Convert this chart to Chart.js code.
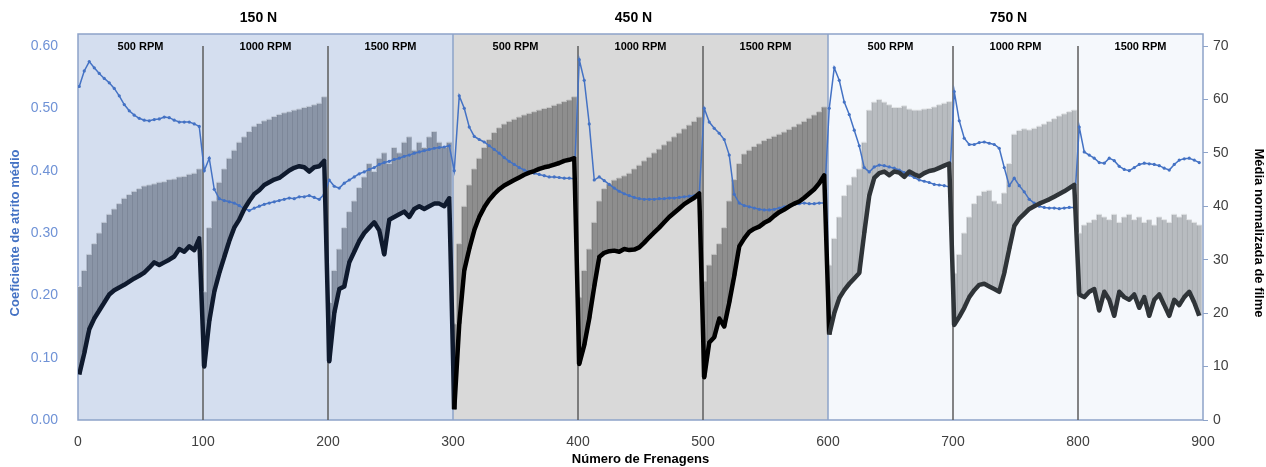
<!DOCTYPE html>
<html>
<head>
<meta charset="utf-8">
<script src="https://cdn.jsdelivr.net/npm/chart.js@4.4.1/dist/chart.umd.min.js"></script>
<style>
  html, body { margin: 0; padding: 0; background: #fff; }
</style>
</head>
<body>
<canvas id="grafico" width="1266" height="467"></canvas>
<script>
// Ensaios: 3 cargas x 3 rotações, 100 frenagens cada; um ponto a cada 4 frenagens
const cargas = ["150 N", "450 N", "750 N"];
const rotacoes = ["500 RPM", "1000 RPM", "1500 RPM"];

const frenagens = [];
for (let s = 0; s < 9; s++) {
  for (let i = 0; i < 25; i++) frenagens.push(s * 100 + 1 + i * 4);
}

// Coeficiente de atrito médio (eixo esquerdo)
const atrito = [
  0.535,0.56,0.575,0.565,0.556,0.548,0.541,0.532,0.52,0.506,0.496,0.489,0.484,0.481,0.48,0.482,0.483,0.486,0.485,0.481,0.478,0.478,0.478,0.475,0.471,
  0.40,0.42,0.37,0.355,0.352,0.35,0.348,0.344,0.339,0.336,0.34,0.343,0.346,0.348,0.35,0.352,0.354,0.356,0.355,0.358,0.358,0.36,0.357,0.354,0.362,
  0.385,0.375,0.372,0.38,0.385,0.39,0.395,0.398,0.402,0.405,0.41,0.413,0.415,0.418,0.42,0.423,0.425,0.428,0.43,0.432,0.434,0.436,0.437,0.438,0.44,
  0.40,0.52,0.50,0.47,0.455,0.45,0.446,0.44,0.434,0.428,0.421,0.415,0.41,0.405,0.401,0.398,0.396,0.394,0.392,0.39,0.39,0.389,0.388,0.388,0.387,
  0.578,0.545,0.475,0.385,0.39,0.384,0.378,0.372,0.367,0.363,0.36,0.357,0.355,0.354,0.354,0.354,0.355,0.355,0.356,0.356,0.357,0.358,0.359,0.36,0.362,
  0.50,0.478,0.468,0.46,0.45,0.425,0.362,0.348,0.344,0.342,0.34,0.338,0.337,0.337,0.338,0.34,0.342,0.344,0.346,0.347,0.348,0.347,0.347,0.348,0.348,
  0.50,0.565,0.545,0.51,0.49,0.465,0.44,0.405,0.398,0.406,0.409,0.408,0.406,0.404,0.401,0.397,0.393,0.389,0.385,0.383,0.381,0.378,0.377,0.376,0.374,
  0.527,0.48,0.452,0.442,0.442,0.445,0.446,0.444,0.442,0.436,0.405,0.376,0.388,0.376,0.366,0.354,0.348,0.343,0.341,0.34,0.34,0.339,0.34,0.341,0.341,
  0.47,0.43,0.425,0.42,0.413,0.412,0.42,0.416,0.407,0.402,0.40,0.405,0.41,0.412,0.411,0.41,0.408,0.404,0.401,0.41,0.417,0.419,0.42,0.417,0.413
];

// Média normalizada de filme (eixo direito)
const filme = [
  8.5,12.5,17,19,20.5,22,23.5,24.3,24.8,25.3,25.9,26.5,27,27.6,28.5,29.5,29,29.5,30,30.6,32,31.5,32.5,31.8,34,
  10,18.5,24,27.5,30.5,33.5,36,37.5,39.5,41,42.3,43,44,44.5,45,45.3,46,46.7,47.2,47.5,47.3,46.5,47.3,47.5,48.5,
  11,20,24.5,25,29.5,31.5,33.5,35,36,37,35.5,31,37.5,38,38.5,39,38,39.5,40,39.5,40,40.5,40.5,40,41.5,
  2,18,28,32,35.5,38,39.8,41.2,42.3,43.2,43.9,44.4,44.9,45.4,45.9,46.3,46.6,47,47.3,47.5,47.8,48.1,48.5,48.7,49,
  10.5,14,19,25,30.5,31.3,31.6,31.7,31.5,32,31.8,31.9,32.3,33.2,34.2,35.1,36,37,38,38.8,39.6,40.4,41,41.6,42.4,
  8,14.5,15.5,19,17.5,22,27,32.5,34,35.2,35.8,36.2,36.9,37.4,38.2,38.9,39.4,40,40.5,40.9,41.6,42.4,43.2,44.3,45.8,
  16,20,22.8,24.3,25.5,26.5,27.5,35,42,45.3,46.2,46.5,45.8,46.5,46.3,45.5,46.5,46,45.6,46.2,46.6,46.8,47.2,47.6,48,
  17.8,19.3,21,23,24.3,25.3,25.5,25,24.5,24,27.5,32,36.3,37.7,38.6,39.5,40,40.5,40.9,41.3,41.8,42.3,42.8,43.4,44,
  23.5,23,24,24.5,20.5,24,22.5,19.5,24,23,22.5,23.5,21,23,19.5,22.5,23.5,21.5,19.5,22.5,21.5,23,24,22,19.5
];

// Média + desvio padrão (topo das barras de erro)
const filmeTopo = [
  25,28,31,33,35,37,38.5,39.5,40.5,41.5,42.2,42.8,43.3,43.8,44,44.2,44.5,44.6,45,45.1,45.5,45.6,46,46.2,47,
  24,36,41,44.5,47,49,50.5,52,53,54,55,55.5,56,56.3,56.8,57.2,57.5,57.7,58,58.2,58.5,58.7,59,59.3,60.5,
  22,28,32,36,39,41,43.5,45.5,48,46.5,49,50,48,51,50,52,53,50.5,52,51,53,54,52,51,52,
  18,33,40,44,47,49,51,52.5,53.8,54.7,55.4,55.9,56.3,56.7,57.1,57.4,57.7,58,58.3,58.5,58.9,59.2,59.6,59.9,60.5,
  23,28,32,37,41,43.3,44.2,44.9,45.3,45.7,46.2,47,47.7,48.5,49.2,50,50.7,51.5,52.2,53,53.7,54.5,55.2,55.9,56.7,
  26,29,31,33,36,41,45,48,49.8,50.5,51.2,51.7,52.3,52.7,53.1,53.5,53.9,54.4,54.9,55.4,55.9,56.5,57.1,57.7,58.6,
  29,34,38,42,44,45.5,47,52,58,59.5,60,59.5,59,58.5,58.5,58.8,58.2,58,58,58.2,58.3,58.6,59,59.3,59.6,
  27.5,31,35,38,40.5,42,42.8,43,41,40.5,42.5,48,53.5,54.2,54.5,54.3,54.6,55,55.4,55.9,56.4,56.9,57.3,57.7,58,
  35,36.5,37,37.5,38.5,38,37.5,38.5,37,38,38.5,37.5,38,37,37.5,36.5,38,37.5,37,38.5,38,38.5,37.5,37,36.5
];

// cores por carga
const fundos = ["#d4deef", "#d9d9d9", "#f5f8fc"];
const coresBarra = ["#8a95a7", "#8e8e8e", "#b8bcc0"];
const coresBorda = ["#6b7587", "#6c6c6c", "#979ba0"];
const coresTopo = ["#c3cbd8", "#c4c4c4", "#e2e4e6"];
const coresFilme = ["#0f1a2e", "#000000", "#2f3438"];
const AZUL = "#4472c4";

const carga = x => Math.min(2, Math.floor((x - 0.5) / 300));

const faixasPlugin = {
  id: "faixas",
  beforeDatasetsDraw(chart) {
    const { ctx, chartArea: a, scales: { x } } = chart;
    const topo = a.top - 12;
    ctx.save();
    cargas.forEach((c, i) => {
      const x0 = x.getPixelForValue(i * 300);
      const x1 = x.getPixelForValue((i + 1) * 300);
      ctx.fillStyle = fundos[i];
      ctx.fillRect(x0, topo, x1 - x0, a.bottom - topo);
    });
    ctx.strokeStyle = "#8da3c9";
    ctx.lineWidth = 1.5;
    ctx.strokeRect(a.left, topo, a.right - a.left, a.bottom - topo);
    [300, 600].forEach(v => {
      const px = x.getPixelForValue(v);
      ctx.beginPath();
      ctx.moveTo(px, topo);
      ctx.lineTo(px, a.bottom);
      ctx.stroke();
    });
    ctx.strokeStyle = "#5c5c5c";
    ctx.lineWidth = 1.5;
    for (let v = 100; v < 900; v += 100) {
      if (v % 300 === 0) continue;
      const px = x.getPixelForValue(v);
      ctx.beginPath();
      ctx.moveTo(px, a.top);
      ctx.lineTo(px, a.bottom);
      ctx.stroke();
    }
    ctx.restore();
  },
  afterDraw(chart) {
    const { ctx, chartArea: a, scales: { x } } = chart;
    ctx.save();
    ctx.fillStyle = "#000";
    ctx.textAlign = "center";
    ctx.textBaseline = "middle";
    ctx.font = "bold 14px 'Liberation Sans', Arial, sans-serif";
    cargas.forEach((c, i) => {
      ctx.fillText(c, x.getPixelForValue(i * 300 + 150) - 7, 18);
    });
    ctx.font = "bold 11px 'Liberation Sans', Arial, sans-serif";
    for (let s = 0; s < 9; s++) {
      ctx.fillText(rotacoes[s % 3], x.getPixelForValue(s * 100 + 50), a.top + 1);
    }
    ctx.restore();
  }
};

const fonte = "'Liberation Sans', Arial, sans-serif";

new Chart(document.getElementById("grafico"), {
  type: "bar",
  data: {
    datasets: [
      {
        type: "line",
        label: "Média normalizada de filme",
        data: frenagens.map((x, i) => ({ x, y: filme[i] })),
        yAxisID: "yFilme",
        borderWidth: 4.5,
        pointRadius: 0,
        borderJoinStyle: "round",
        segment: { borderColor: c => coresFilme[carga(c.p0.parsed.x)] },
        order: 1
      },
      {
        type: "line",
        label: "Coeficiente de atrito médio",
        data: frenagens.map((x, i) => ({ x, y: atrito[i] })),
        yAxisID: "yAtrito",
        borderColor: AZUL,
        borderWidth: 1.5,
        pointRadius: 1.6,
        pointBackgroundColor: AZUL,
        pointBorderWidth: 0,
        order: 2
      },
      {
        type: "line",
        label: "topo",
        data: frenagens.map((x, i) => ({ x, y: filmeTopo[i] })),
        yAxisID: "yFilme",
        showLine: false,
        pointStyle: "line",
        pointRadius: 2.5,
        pointBorderWidth: 1,
        pointBorderColor: c => coresTopo[carga(c.raw.x)],
        order: 3
      },
      {
        label: "desvio",
        data: frenagens.map((x, i) => ({ x, y: [filme[i], filmeTopo[i]] })),
        yAxisID: "yFilme",
        barThickness: 5,
        backgroundColor: c => coresBarra[carga(c.raw.x)],
        borderColor: c => coresBorda[carga(c.raw.x)],
        borderWidth: { left: 1, right: 0, top: 0, bottom: 0 },
        borderSkipped: false,
        order: 4
      }
    ]
  },
  options: {
    responsive: false,
    animation: false,
    layout: { padding: { top: 46, left: 0, right: 0, bottom: 0 } },
    plugins: { legend: { display: false }, tooltip: { enabled: false } },
    scales: {
      x: {
        type: "linear",
        min: 0,
        max: 900,
        offset: false,
        grid: { display: false },
        border: { display: false },
        ticks: { stepSize: 100, color: "#404040", font: { family: fonte, size: 14 }, padding: 6, maxRotation: 0 },
        title: {
          display: true,
          text: "Número de Frenagens",
          color: "#000",
          font: { family: fonte, size: 13, weight: "bold" },
          padding: { top: 0, bottom: 0 }
        },
        afterFit(scale) { scale.height = 47; }
      },
      yAtrito: {
        position: "left",
        min: 0,
        max: 0.6,
        grid: { display: false },
        border: { display: false },
        ticks: {
          stepSize: 0.1,
          color: "#6f92d6",
          font: { family: fonte, size: 14 },
          padding: 12,
          callback: v => v.toFixed(2)
        },
        title: {
          display: true,
          text: "Coeficiente de atrito médio",
          color: AZUL,
          font: { family: fonte, size: 13, weight: "bold" },
          padding: { top: 8, bottom: 0 }
        },
        afterFit(scale) { scale.width = 78; }
      },
      yFilme: {
        position: "right",
        min: 0,
        max: 70,
        grid: { drawOnChartArea: false, drawTicks: true, tickLength: 5, color: "#8da3c9" },
        border: { display: false },
        ticks: { stepSize: 10, color: "#404040", font: { family: fonte, size: 14 }, padding: 5 },
        title: {
          display: true,
          text: "Média normalizada de filme",
          color: "#000",
          font: { family: fonte, size: 13, weight: "bold" },
          padding: { top: 0, bottom: 6 }
        },
        afterFit(scale) { scale.width = 63; }
      }
    }
  },
  plugins: [faixasPlugin]
});
</script>
</body>
</html>
